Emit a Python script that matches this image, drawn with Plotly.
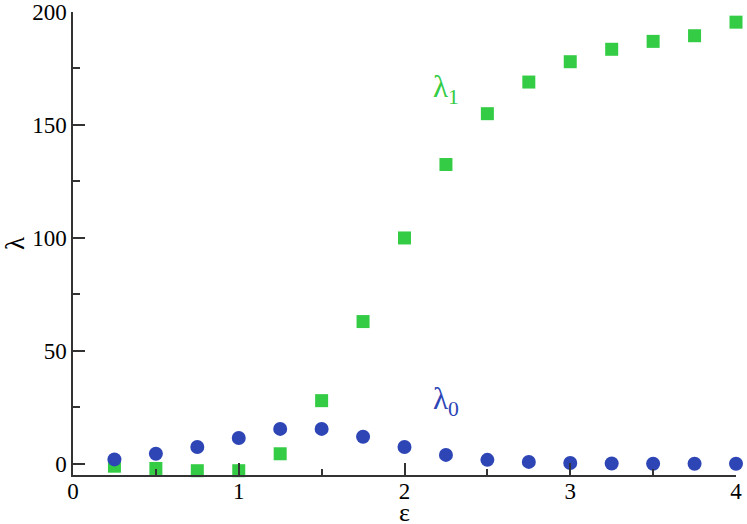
import plotly.graph_objects as go

eps = [0.25, 0.5, 0.75, 1.0, 1.25, 1.5, 1.75, 2.0, 2.25, 2.5, 2.75, 3.0, 3.25, 3.5, 3.75, 4.0]
lam1 = [-1, -2, -3, -3, 4.5, 28, 63, 100, 132.5, 155, 169, 178, 183.5, 187, 189.5, 195.5]
lam0 = [2, 4.5, 7.5, 11.5, 15.5, 15.5, 12, 7.5, 4, 1.8, 0.9, 0.4, 0.2, 0.1, 0.1, 0.1]

GREEN = "#33cc44"
BLUE = "#2e45b6"
FONT = "Liberation Serif"

fig = go.Figure()
fig.add_trace(go.Scatter(x=eps, y=lam1, mode="markers", cliponaxis=False,
                         marker=dict(symbol="square", size=13, color=GREEN, line=dict(width=0))))
fig.add_trace(go.Scatter(x=eps, y=lam0, mode="markers", cliponaxis=False,
                         marker=dict(symbol="circle", size=14, color=BLUE, line=dict(width=0))))

fig.add_annotation(x=2.25, y=166, text="λ<sub>1</sub>", showarrow=False,
                   xanchor="center", font=dict(family=FONT, size=31, color=GREEN))
fig.add_annotation(x=2.25, y=28, text="λ<sub>0</sub>", showarrow=False,
                   xanchor="center", font=dict(family=FONT, size=31, color=BLUE))

axis_common = dict(showgrid=False, zeroline=False, showline=True, linecolor="#333333",
                   linewidth=1.5, ticks="inside", tickcolor="#333333", tickwidth=1.5,
                   ticklen=12, automargin=False, ticklabeloverflow="allow",
                   tickfont=dict(family=FONT, size=23, color="black"))

fig.update_xaxes(range=[0, 4], tickvals=[0, 1, 2, 3, 4],
                 minor=dict(tickvals=[0.5, 1.5, 2.5, 3.5], ticks="inside", ticklen=6,
                            tickcolor="#333333", tickwidth=1.5),
                 ticklabelstandoff=-5,
                 **axis_common)
fig.update_yaxes(range=[-4.9, 200], tickvals=[0, 50, 100, 150, 200],
                 minor=dict(tickvals=[25, 75, 125, 175], ticks="inside", ticklen=7,
                            tickcolor="#333333", tickwidth=1.5),
                 title=dict(text="λ", font=dict(family=FONT, size=27, color="black"), standoff=4),
                 **axis_common)

fig.add_annotation(x=0.5, xref="paper", y=0, yref="paper", yshift=-37, yanchor="middle",
                   text="ε", showarrow=False, font=dict(family=FONT, size=26, color="black"))

fig.update_layout(width=747, height=524, showlegend=False,
                  plot_bgcolor="white", paper_bgcolor="white",
                  margin=dict(l=73, r=11, t=12, b=49))

fig.write_html("out.html", config={"displayModeBar": False},
               post_script="document.body.style.margin='0';document.body.style.overflow='hidden';")
